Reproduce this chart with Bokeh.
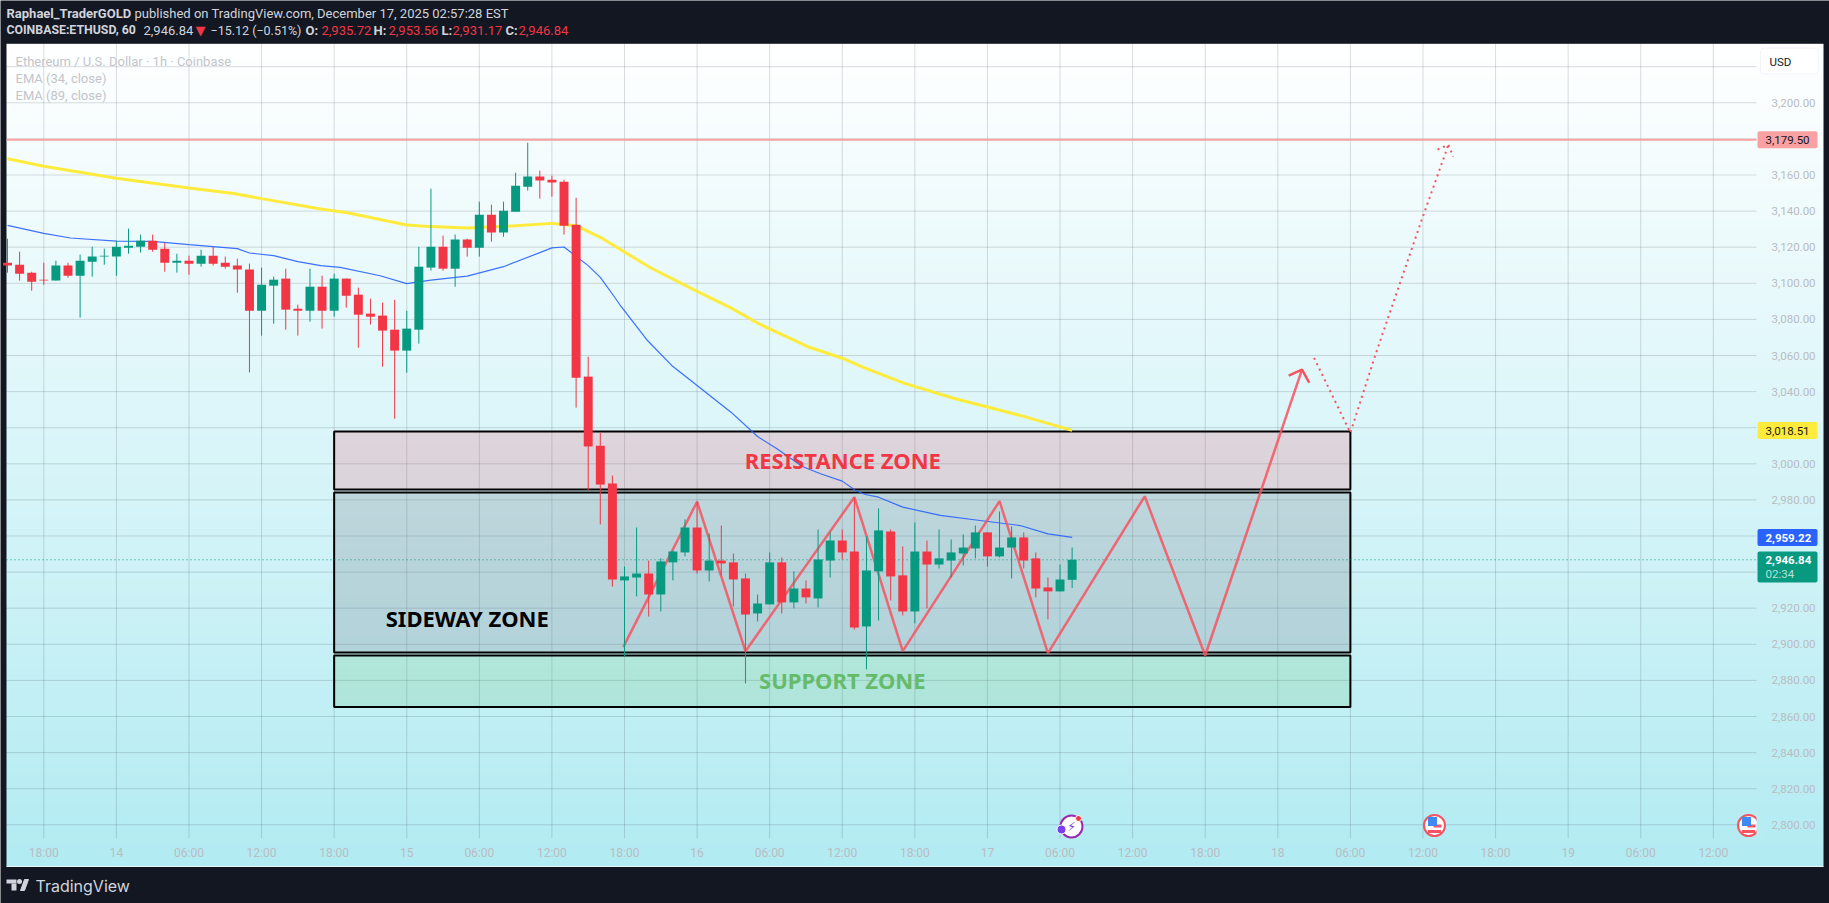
import numpy as np
from bokeh.core.properties import value
from bokeh.embed import file_html
from bokeh.models import FixedTicker, LinearAxis, NumeralTickFormatter, Range1d
from bokeh.plotting import figure
from bokeh.resources import INLINE

# hourly bars, hour 0 = Dec 13 18:00
HOURS = list(range(-3, 86))
OPENS = [3111.4, 3110.3, 3105.9, 3102.0, 3101.5, 3109.8, 3104.2, 3112.0, 3114.8, 3114.8,
         3119.7, 3120.3, 3123.6, 3119.2, 3111.4, 3112.5, 3110.9, 3115.3, 3111.4, 3109.8,
         3107.6, 3084.8, 3098.7, 3102.6, 3085.9, 3084.8, 3098.1, 3084.8, 3102.6, 3093.7,
         3083.2, 3082.1, 3074.3, 3062.7, 3074.3, 3108.7, 3120.3, 3108.1, 3124.2, 3119.7,
         3138.0, 3128.1, 3139.7, 3153.5, 3159.1, 3157.4, 3156.3, 3132.5, 3048.3, 3010.0,
         2989.1, 2935.4, 2937.0, 2939.2, 2927.6, 2945.4, 2950.9, 2964.7, 2940.9, 2946.4,
         2945.4, 2936.5, 2917.1, 2922.1, 2945.4, 2923.2, 2930.9, 2925.4, 2946.4, 2957.5,
         2951.4, 2909.9, 2940.4, 2962.5, 2938.2, 2918.2, 2951.4, 2944.2, 2946.4, 2950.3,
         2953.1, 2962.0, 2948.7, 2953.6, 2959.2, 2947.6, 2931.5, 2929.3, 2935.72]
HIGHS = [3124.7, 3117.5, 3106.4, 3111.4, 3112.5, 3111.4, 3115.9, 3120.3, 3119.2, 3123.6,
         3130.3, 3127.0, 3127.0, 3122.5, 3116.4, 3115.3, 3118.6, 3120.3, 3114.8, 3113.6,
         3110.9, 3108.7, 3103.7, 3108.1, 3088.2, 3108.1, 3104.2, 3105.3, 3102.6, 3097.6,
         3091.5, 3089.3, 3090.9, 3084.8, 3120.3, 3152.4, 3126.4, 3127.0, 3124.7, 3145.2,
         3143.6, 3145.2, 3161.3, 3177.9, 3162.4, 3159.6, 3157.4, 3147.4, 3059.3, 3017.2,
         2993.5, 2943.1, 2964.7, 2946.4, 2947.6, 2952.0, 2969.2, 2979.0, 2961.4, 2965.8,
         2950.3, 2939.2, 2927.6, 2950.9, 2948.1, 2940.4, 2935.4, 2963.6, 2962.0, 2963.6,
         2981.5, 2959.7, 2975.3, 2963.6, 2954.2, 2967.5, 2957.5, 2963.6, 2958.1, 2960.9,
         2965.8, 2962.0, 2973.6, 2965.3, 2962.0, 2950.9, 2937.0, 2944.2, 2953.56]
LOWS = [3105.9, 3101.5, 3095.9, 3099.2, 3101.5, 3103.1, 3081.0, 3103.7, 3110.3, 3104.2,
        3116.4, 3117.0, 3117.5, 3106.4, 3105.9, 3104.8, 3109.2, 3109.8, 3108.1, 3094.8,
        3050.6, 3071.0, 3077.6, 3074.3, 3071.0, 3078.7, 3074.9, 3081.5, 3086.5, 3064.3,
        3077.1, 3053.8, 3025.0, 3050.5, 3066.6, 3107.0, 3107.0, 3098.1, 3114.8, 3114.8,
        3123.1, 3125.8, 3139.7, 3151.3, 3146.9, 3148.0, 3127.0, 3031.1, 2985.2, 2966.4,
        2932.0, 2893.3, 2926.5, 2915.4, 2918.2, 2935.4, 2948.7, 2939.2, 2934.8, 2938.2,
        2921.0, 2878.3, 2912.6, 2922.1, 2917.1, 2919.9, 2922.6, 2920.4, 2937.0, 2947.0,
        2908.2, 2886.1, 2913.2, 2924.3, 2916.0, 2911.6, 2919.9, 2942.0, 2937.0, 2943.7,
        2947.6, 2943.1, 2948.1, 2936.5, 2942.0, 2926.0, 2913.8, 2929.3, 2931.17]
CLOSES = [3109.8, 3105.3, 3100.9, 3101.5, 3109.8, 3104.2, 3112.5, 3114.8, 3115.3, 3120.3,
          3120.8, 3123.6, 3118.6, 3111.4, 3112.5, 3110.9, 3115.3, 3110.9, 3109.2, 3107.6,
          3084.8, 3099.2, 3102.0, 3085.4, 3084.8, 3098.1, 3084.8, 3102.6, 3093.1, 3082.6,
          3081.5, 3073.8, 3062.7, 3074.9, 3109.2, 3120.3, 3108.1, 3124.2, 3119.7, 3138.0,
          3128.1, 3140.2, 3154.1, 3159.1, 3156.9, 3155.8, 3131.9, 3047.7, 3009.6, 2988.5,
          2935.9, 2937.6, 2939.2, 2927.6, 2945.9, 2951.4, 2964.7, 2940.9, 2946.4, 2944.8,
          2935.9, 2916.5, 2922.6, 2945.4, 2923.2, 2930.9, 2926.0, 2947.0, 2957.5, 2950.9,
          2909.3, 2940.9, 2963.1, 2937.6, 2918.2, 2951.4, 2944.2, 2947.6, 2950.9, 2953.6,
          2962.0, 2948.7, 2953.6, 2959.2, 2946.4, 2930.9, 2929.3, 2935.9, 2946.84]

EMA89_X = [-3, 0, 6, 12, 15.7, 18, 22.9, 25.1, 30, 32, 35, 38.3, 42, 44, 46, 47.7, 50.15, 54,
           56.8, 59.1, 63.1, 66, 67.9, 71.1, 75.2, 80.7, 85]
EMA89_Y = [3169.0, 3164.8, 3158.2, 3152.8, 3149.8, 3146.9, 3141.2, 3139.1, 3132.3, 3131.4,
           3130.6, 3131.6, 3133.2, 3131.9, 3125.5, 3118.6, 3108.6, 3095.5, 3086.4, 3077.6,
           3065.0, 3058.5, 3053.0, 3044.7, 3036.3, 3026.8, 3018.51]
EMA34_X = [-3, 0, 2.2, 6, 9, 12, 16, 17, 19, 21, 22.9, 24.5, 27.8, 30, 32, 35, 38, 42, 43, 45,
           46, 47.1, 47.7, 49.9, 51.9, 54, 56.8, 59, 60.6, 62.7, 64.2, 66, 67.1, 67.9, 69,
           71, 74.1, 76.9, 80.7, 83, 85]
EMA34_Y = [3132.1, 3127.7, 3125.1, 3123.4, 3123.2, 3121.4, 3119.2, 3116.8, 3115.3, 3112.0,
           3109.8, 3108.8, 3104.2, 3099.8, 3101.8, 3104.0, 3109.2, 3119.6, 3120.1, 3109.8,
           3103.3, 3093.1, 3087.3, 3068.3, 3054.5, 3043.4, 3028.6, 3015.1, 3008.3, 2998.5,
           2994.5, 2990.4, 2985.2, 2983.0, 2981.5, 2976.0, 2971.4, 2969.0, 2965.8, 2961.2,
           2959.22]

# drawings
ZIGZAG_X = [47.9, 54, 58, 67, 71, 79, 83, 91, 96, 104]
ZIGZAG_Y = [2898.4, 2979.0, 2896.2, 2981.5, 2896.2, 2979.3, 2895.1, 2982.0, 2893.8, 3052.2]
ARROW_X = [102.9, 104, 104.6]
ARROW_Y = [3048.8, 3052.2, 3044.9]
DOTTED_X = [105, 108, 110.1, 113.8, 116.1]
DOTTED_Y = [3058.7, 3017.2, 3061.0, 3133.3, 3176.7]
DOTTED_HEAD_X = [115.2, 116.1, 116.5]
DOTTED_HEAD_Y = [3174.1, 3176.7, 3170.2]
ZONE_LEFT = 24
ZONE_RIGHT = 108
RESISTANCE = [2985.8, 3017.9]
SIDEWAY = [2895.5, 2984.1]
SUPPORT = [2865.3, 2893.8]
HLINE = 3179.5
LAST_PRICE = 2946.84

TIME_TICKS = list(range(0, 139, 6))
TIME_LABELS = ["18:00", "14", "06:00", "12:00", "18:00", "15", "06:00", "12:00", "18:00", "16",
               "06:00", "12:00", "18:00", "17", "06:00", "12:00", "18:00", "18", "06:00",
               "12:00", "18:00", "19", "06:00", "12:00"]
GRID_PRICES = list(range(2800, 3221, 20))
PRICE_TICKS = [3200, 3160, 3140, 3120, 3100, 3080, 3060, 3040, 3000, 2980,
               2920, 2900, 2880, 2860, 2840, 2820, 2800]

W, H = 1829, 903
BG = "#131722"
RED = "#f23645"
GREEN = "#089981"
AXIS_TEXT = "#b9bcc2"
AXIS_FONT = "Roboto"


# picture pixels to chart units
def hx(px):
    return (px - 43.3) / 12.098


def pr(py):
    return 3200 - (py - 102.3) / 1.805


PANE_L, PANE_R, PANE_T, PANE_B = 6, 1823, 43.3, 866
PLOT_R, PLOT_B = 1756, 838

p = figure(width=W, height=H, output_backend="svg", toolbar_location=None,
           x_range=Range1d(hx(0), hx(W)), y_range=Range1d(pr(H), pr(0)),
           x_axis_type=None, y_axis_type=None, min_border=0,
           background_fill_color=BG, border_fill_color=BG, outline_line_color=None)
p.grid.visible = False

# pane background, white fading to pale cyan (rows run bottom to top)
rows = 412
t = np.linspace(1, 0, rows)
grad = np.zeros((rows, 1), dtype=np.uint32)
view = grad.view(dtype=np.uint8).reshape((rows, 1, 4))
view[:, 0, 0] = (255 - 77 * t).round()
view[:, 0, 1] = (255 - 20 * t).round()
view[:, 0, 2] = (255 - 13 * t).round()
view[:, 0, 3] = 255
p.image_rgba(image=[grad], x=hx(PANE_L), y=pr(PANE_B), dw=hx(PANE_R) - hx(PANE_L),
             dh=pr(PANE_T) - pr(PANE_B))
p.line([hx(PANE_L), hx(PANE_R)], [pr(PANE_B), pr(PANE_B)], color="#e8f8fa", line_width=1)

# grid stops at the price scale and time scale
p.segment(x0=[hx(PANE_L)] * len(GRID_PRICES), x1=[hx(PLOT_R)] * len(GRID_PRICES),
          y0=GRID_PRICES, y1=GRID_PRICES, color="#2a2e39", alpha=0.17, line_width=1)
p.segment(x0=TIME_TICKS, x1=TIME_TICKS, y0=[pr(PANE_T)] * len(TIME_TICKS),
          y1=[pr(PLOT_B)] * len(TIME_TICKS), color="#2a2e39", alpha=0.17, line_width=1)

# zones
p.quad(left=ZONE_LEFT, right=ZONE_RIGHT, bottom=RESISTANCE[0], top=RESISTANCE[1],
       fill_color=RED, fill_alpha=0.17, line_color="black", line_width=2)
p.quad(left=ZONE_LEFT, right=ZONE_RIGHT, bottom=SIDEWAY[0], top=SIDEWAY[1],
       fill_color="#787b86", fill_alpha=0.25, line_color="black", line_width=2)
p.quad(left=ZONE_LEFT, right=ZONE_RIGHT, bottom=SUPPORT[0], top=SUPPORT[1],
       fill_color="#64be6e", fill_alpha=0.2, line_color="black", line_width=2)

# horizontal lines
p.line([hx(PANE_L), hx(PLOT_R)], [HLINE, HLINE], color="#faa1a4", line_width=2)
p.line([hx(PANE_L), hx(PLOT_R)], [LAST_PRICE, LAST_PRICE], color=GREEN, line_width=1,
       line_dash=[1, 3])

# moving averages
p.line(EMA89_X, EMA89_Y, color="#ffeb3b", line_width=3)
p.line(EMA34_X, EMA34_Y, color="#2962ff", line_width=1.2, alpha=0.9)

# user drawings under the candles
p.line(ZIGZAG_X, ZIGZAG_Y, color="#f7525f", line_width=2.5, alpha=0.85)
p.line(ARROW_X, ARROW_Y, color="#f7525f", line_width=2.5)
p.line(DOTTED_X, DOTTED_Y, color="#f7525f", line_width=2, line_dash=[2, 4])
p.line(DOTTED_HEAD_X, DOTTED_HEAD_Y, color="#f7525f", line_width=2, line_dash=[2, 4])

# candles
colors = [RED if c < o else GREEN for o, c in zip(OPENS, CLOSES)]
p.segment(HOURS, LOWS, HOURS, HIGHS, color=colors, line_width=1)
p.vbar(x=HOURS, width=0.74, bottom=[min(o, c) for o, c in zip(OPENS, CLOSES)],
       top=[max(o, c) for o, c in zip(OPENS, CLOSES)], fill_color=colors, line_color=None)

# axes drawn over the pane at fixed spots, they take no room of their own
price_axis = LinearAxis(fixed_location=hx(1765), ticker=FixedTicker(ticks=PRICE_TICKS),
                        formatter=NumeralTickFormatter(format="0,0.00"),
                        axis_line_color=None, major_tick_line_color=None,
                        minor_tick_line_color=None, major_label_text_color=AXIS_TEXT,
                        major_label_text_font=AXIS_FONT, major_label_text_font_size="11.5px",
                        major_label_standoff=0)
p.add_layout(price_axis, "right")
time_axis = LinearAxis(fixed_location=pr(839), ticker=FixedTicker(ticks=TIME_TICKS),
                       major_label_overrides=dict(zip(TIME_TICKS, TIME_LABELS)),
                       axis_line_color=None, major_tick_line_color=None,
                       minor_tick_line_color=None, major_label_text_color=AXIS_TEXT,
                       major_label_text_font=AXIS_FONT, major_label_text_font_size="12px",
                       major_label_standoff=0)
p.add_layout(time_axis, "below")


def txt(px, py, s, color, size=13, bold=False, align="left", font="Roboto"):
    p.text(x=[hx(px)], y=[pr(py)], text=[s], text_color=color, text_font=value(font),
           text_font_size="%gpx" % size, text_font_style="bold" if bold else "normal",
           text_align=align, text_baseline="middle")


# zone titles
for zx, zy, name, zc in [(66.05, 3002, "RESISTANCE ZONE", RED), (35, 2914.3, "SIDEWAY ZONE", "black"),
                         (66, 2880, "SUPPORT ZONE", "#66bb6a")]:
    p.text(x=[zx], y=[zy], text=[name], text_color=zc, text_font=value("Noto Sans"),
           text_font_size="22px", text_font_style="bold", text_align="center", text_baseline="middle")

# header
FG = "#d1d4dc"
txt(6, 12.7, "Raphael_TraderGOLD", FG, bold=True)
txt(134, 12.7, "published on TradingView.com, December 17, 2025 02:57:28 EST", FG)
txt(6, 29.7, "COINBASE:ETHUSD, 60", FG, size=12.3, bold=True)
txt(143, 29.7, "2,946.84", FG)
txt(195, 29.7, "▼", RED, font="DejaVu Sans")
txt(210, 29.7, "−15.12 (−0.51%)", FG, size=12.5)
for x_key, key, x_val, val in [(305, "O:", 321, "2,935.72"), (373, "H:", 388, "2,953.56"),
                               (441, "L:", 452, "2,931.17"), (505, "C:", 518, "2,946.84")]:
    txt(x_key, 29.7, key, FG, bold=True)
    txt(x_val, 29.7, val, RED)

# legend
txt(15, 60.7, "Ethereum / U.S. Dollar · 1h · Coinbase", "#c3c5ca")
txt(15, 77.5, "EMA (34, close)", "#c3c5ca")
txt(15, 94.7, "EMA (89, close)", "#c3c5ca")

# USD button
p.rect(x=[hx(1789)], y=[pr(60.6)], width=58, height=26, width_units="screen", height_units="screen",
       fill_color="white", line_color="#f0f3fa", border_radius=4)
txt(1769, 61.5, "USD", "#131722", size=11.5)

# price tags
TAG_X = hx(1787)
p.rect(x=[TAG_X], y=[HLINE], width=60, height=17, width_units="screen", height_units="screen",
       fill_color="#faa1a4", line_color=None, border_radius=2)
txt(1765, 139.3, "3,179.50", "#131722", size=11.5)
p.rect(x=[TAG_X], y=[EMA89_Y[-1]], width=60, height=17, width_units="screen", height_units="screen",
       fill_color="#ffeb3b", line_color=None, border_radius=2)
txt(1765, 430, "3,018.51", "#131722", size=11.5)
p.rect(x=[TAG_X], y=[EMA34_Y[-1]], width=60, height=17, width_units="screen", height_units="screen",
       fill_color="#2962ff", line_color=None, border_radius=2)
txt(1765, 537.5, "2,959.22", "white", size=11.5, bold=True)
p.rect(x=[TAG_X], y=[pr(566.5)], width=60, height=31, width_units="screen", height_units="screen",
       fill_color=GREEN, line_color=None, border_radius=2)
txt(1765, 559, "2,946.84", "white", size=11.5, bold=True)
txt(1765, 573, "02:34", "#b5e0d8", size=11.5)

# calendar icons
p.scatter(x=[hx(1071)], y=[pr(826)], size=22, marker="circle", fill_color="white",
          line_color="#9c27b0", line_width=2)
txt(1071, 826, "⚡", "#7b3ff2", size=13, align="center", font="DejaVu Sans")
p.scatter(x=[hx(1061)], y=[pr(829)], size=9, marker="circle", fill_color="#7b3ff2", line_color="white")
p.scatter(x=[hx(1078)], y=[pr(818)], size=6, marker="circle", fill_color=RED, line_color="white")
for cx in (1434, 1748):
    p.scatter(x=[hx(cx)], y=[pr(825)], size=21, marker="circle", fill_color="white",
              line_color="#f7525f", line_width=2)
    p.rect(x=[hx(cx)], y=[pr(831)], width=13, height=3, width_units="screen", height_units="screen",
           fill_color="#f7525f", line_color=None)
    p.rect(x=[hx(cx + 3)], y=[pr(825.5)], width=8, height=3, width_units="screen", height_units="screen",
           fill_color="#f7525f", line_color=None)
    p.rect(x=[hx(cx - 2)], y=[pr(821)], width=9, height=9, width_units="screen", height_units="screen",
           fill_color="#3d8bf2", line_color=None)
p.quad(left=hx(1756), right=hx(1763), top=pr(812), bottom=pr(838), fill_color="#b6edf3", line_color=None)

# footer logo
p.quad(left=hx(6), right=hx(16), top=pr(879), bottom=pr(883), fill_color=FG, line_color=None)
p.quad(left=hx(11), right=hx(16), top=pr(883), bottom=pr(890), fill_color=FG, line_color=None)
p.scatter(x=[hx(19)], y=[pr(881)], size=5, marker="circle", fill_color=FG, line_color=None)
p.patch([hx(24), hx(28), hx(24), hx(20)], [pr(879), pr(879), pr(890), pr(890)], color=FG)
txt(35, 885, "TradingView", FG, size=16, font="Inter")

open("out.html", "w").write(file_html(p, INLINE))
